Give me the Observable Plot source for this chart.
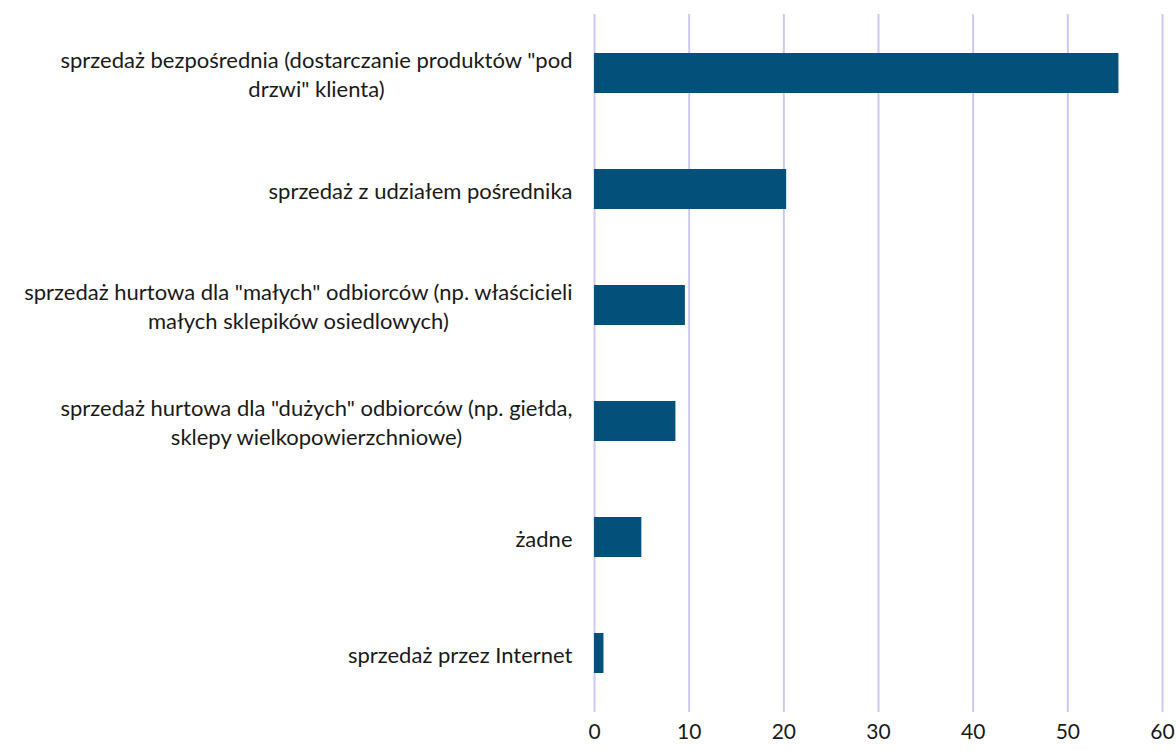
<!DOCTYPE html>
<html>
<head>
<meta charset="utf-8">
<script src="https://cdn.jsdelivr.net/npm/d3@7"></script>
<script src="https://cdn.jsdelivr.net/npm/@observablehq/plot@0.6"></script>
<style>
  html, body { margin: 0; padding: 0; background: #fff; }
  #chart { width: 1176px; height: 751px; }
</style>
</head>
<body>
<div id="chart"></div>
<script>
const categories = [
  "sprzedaż bezpośrednia (dostarczanie produktów \"pod\ndrzwi\" klienta)",
  "sprzedaż z udziałem pośrednika",
  "sprzedaż hurtowa dla \"małych\" odbiorców (np. właścicieli\nmałych sklepików osiedlowych)",
  "sprzedaż hurtowa dla \"dużych\" odbiorców (np. giełda,\nsklepy wielkopowierzchniowe)",
  "żadne",
  "sprzedaż przez Internet"
];
const values = [55.4, 20.3, 9.6, 8.6, 5.0, 1.0];
const xTicks = [0, 10, 20, 30, 40, 50, 60];

const data = categories.map((c, i) => ({category: c, value: values[i]}));

const chart = Plot.plot({
  width: 1176,
  height: 751,
  marginLeft: 594,
  marginRight: 14,
  marginTop: 14,
  marginBottom: 39,
  style: {fontFamily: "Lato, sans-serif", fontSize: "20px", color: "#1a1a1a", background: "#fff"},
  x: {domain: [0, 60], ticks: xTicks},
  y: {domain: categories, paddingInner: 0.655, paddingOuter: 0.3275, label: null},
  marks: [
    Plot.gridX(xTicks, {stroke: "#cdc8f0", strokeOpacity: 1, strokeWidth: 2}),
    Plot.barX(data, {x: "value", y: "category", fill: "#03507a"}),
    Plot.axisX({ticks: xTicks, tickSize: 0, tickPadding: 12, label: null, fontSize: 21}),
    Plot.axisY({tickSize: 0, tickPadding: 22, label: null, fontSize: 22, lineHeight: 1.32, textAnchor: "end"})
  ]
});

document.getElementById("chart").appendChild(chart);

// Center the lines of multi-line y labels within their block, keeping the block right-aligned.
const yAxis = chart.querySelector('g[aria-label="y-axis tick label"]');
if (yAxis) {
  yAxis.querySelectorAll("text").forEach(t => {
    const before = t.getBBox();
    const right = before.x + before.width;
    t.setAttribute("text-anchor", "middle");
    const after = t.getBBox();
    const shift = right - (after.x + after.width);
    const tr = t.getAttribute("transform") || "";
    t.setAttribute("transform", tr + ` translate(${shift},0)`);
  });
}
</script>
</body>
</html>
